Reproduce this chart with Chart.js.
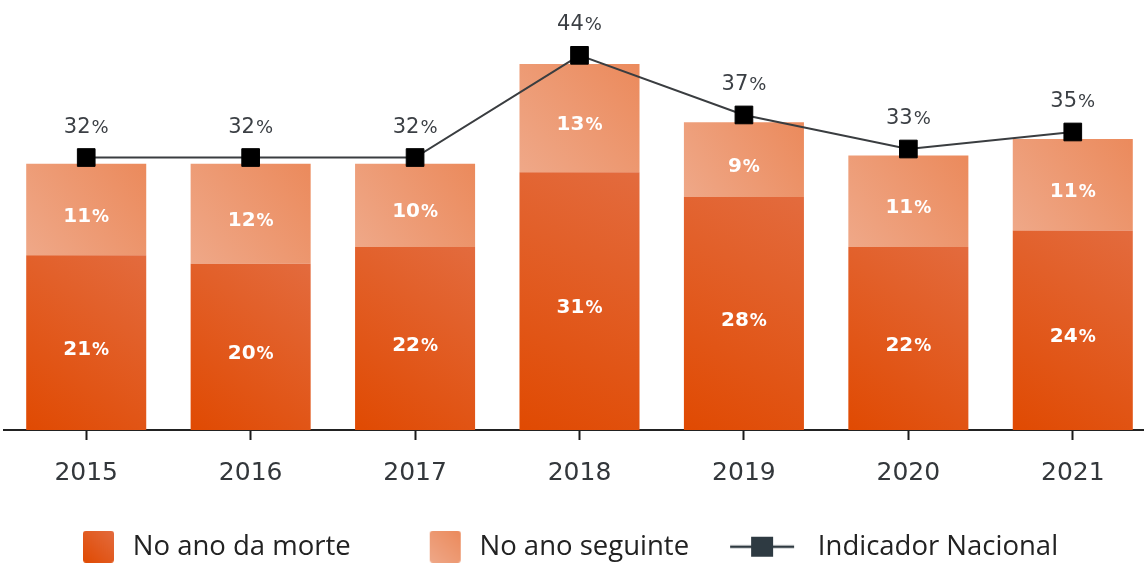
<!DOCTYPE html>
<html lang="pt-BR">
<head>
<meta charset="utf-8">
<script src="https://cdn.jsdelivr.net/npm/chart.js@4.4.1/dist/chart.umd.min.js"></script>
<style>
    html, body { margin: 0; padding: 0; background: #fff; overflow: hidden; }
    #grafico { position: absolute; left: 0; top: 0; }
</style>
</head>
<body>
<canvas id="grafico" width="1158" height="580"></canvas>
<script>
const anos = ['2015', '2016', '2017', '2018', '2019', '2020', '2021'];
const noAnoDaMorte = [21, 20, 22, 31, 28, 22, 24];
const noAnoSeguinte = [11, 12, 10, 13, 9, 11, 11];
const indicadorNacional = [32, 32, 32, 44, 37, 33, 35];

const coresMorte = ['#e04a02', '#e36b3e'];
const coresSeguinte = ['#efa888', '#eb8a5c'];

// gradiente diagonal de cada barra (canto inferior esquerdo -> superior direito)
function gradienteBarra(context, cores, baseFn, topoFn) {
    if (context.type !== 'data') return cores[0];
    const chart = context.chart;
    const x = chart.scales.x, y = chart.scales.y;
    if (!chart.chartArea || !x || !y) return cores[0];
    const i = context.dataIndex;
    const meio = x.getPixelForValue(i);
    const y0 = y.getPixelForValue(baseFn(i));
    const y1 = y.getPixelForValue(topoFn(i));
    if (![meio, y0, y1].every(Number.isFinite)) return cores[0];
    const g = chart.ctx.createLinearGradient(meio - 60, y0, meio + 60, y1);
    g.addColorStop(0, cores[0]);
    g.addColorStop(1, cores[1]);
    return g;
}

function iconeCaixa(cores) {
    const cv = document.createElement('canvas');
    cv.width = 84; cv.height = 32;
    const g = cv.getContext('2d');
    const grad = g.createLinearGradient(48, 32, 79, 0);
    grad.addColorStop(0, cores[0]);
    grad.addColorStop(1, cores[1]);
    g.fillStyle = grad;
    g.beginPath();
    if (g.roundRect) g.roundRect(48, 0, 31, 32, 3); else g.rect(48, 0, 31, 32);
    g.fill();
    return cv;
}

function iconeLinha() {
    const cv = document.createElement('canvas');
    cv.width = 84; cv.height = 24;
    const g = cv.getContext('2d');
    g.strokeStyle = '#2f3a41';
    g.lineWidth = 2.5;
    g.beginPath();
    g.moveTo(10, 12); g.lineTo(74, 12);
    g.stroke();
    g.fillStyle = '#2e3a42';
    g.fillRect(31, 2, 22, 20);
    return cv;
}

const icones = [iconeCaixa(coresMorte), iconeCaixa(coresSeguinte), iconeLinha()];

function textoPercentual(ctx, valor, x, y, tam, cor, peso) {
    const num = String(valor);
    const fNum = `${peso} ${tam}px "DejaVu Sans"`;
    const fPct = `${peso} ${Math.round(tam * 0.85)}px "DejaVu Sans"`;
    ctx.font = fNum;
    const w1 = ctx.measureText(num).width;
    ctx.font = fPct;
    const w2 = ctx.measureText('%').width;
    const ini = x - (w1 + w2 + 1) / 2;
    ctx.fillStyle = cor;
    ctx.textAlign = 'left';
    ctx.textBaseline = 'alphabetic';
    ctx.font = fNum;
    ctx.fillText(num, ini, y);
    ctx.font = fPct;
    ctx.fillText('%', ini + w1 + 1, y);
}

const rotulos = {
    id: 'rotulos',
    afterDatasetsDraw(chart) {
        const ctx = chart.ctx;
        ctx.save();
        chart.data.datasets.forEach((ds, d) => {
            const meta = chart.getDatasetMeta(d);
            meta.data.forEach((el, i) => {
                if (meta.type === 'bar') {
                    textoPercentual(ctx, ds.data[i], el.x, (el.y + el.base) / 2 + 12, 20, '#fff', 'bold');
                } else {
                    textoPercentual(ctx, ds.data[i], el.x, el.y - 25, 21, '#3b3f44', 'normal');
                }
            });
        });
        ctx.restore();
    }
};

new Chart(document.getElementById('grafico'), {
    data: {
        labels: anos,
        datasets: [
            {
                type: 'bar',
                label: 'No ano da morte',
                data: noAnoDaMorte,
                order: 1,
                backgroundColor: c => gradienteBarra(c, coresMorte, () => 0, i => noAnoDaMorte[i]),
                barPercentage: 0.73,
                categoryPercentage: 1
            },
            {
                type: 'bar',
                label: 'No ano seguinte',
                data: noAnoSeguinte,
                order: 1,
                backgroundColor: c => gradienteBarra(c, coresSeguinte, i => noAnoDaMorte[i], i => noAnoDaMorte[i] + noAnoSeguinte[i]),
                barPercentage: 0.73,
                categoryPercentage: 1
            },
            {
                type: 'line',
                label: 'Indicador Nacional',
                data: indicadorNacional,
                order: 0,
                yAxisID: 'y2',
                borderColor: '#3a3d40',
                borderWidth: 2,
                tension: 0,
                clip: false,
                pointStyle: 'rect',
                pointRadius: 12.5,
                pointBackgroundColor: '#000',
                pointBorderColor: '#000',
                pointBorderWidth: 1
            }
        ]
    },
    options: {
        responsive: false,
        animation: false,
        layout: { autoPadding: false, padding: { left: 4, right: 3, top: 0, bottom: 9.5 } },
        scales: {
            x: {
                stacked: true,
                afterFit: scale => { scale.height = 72; },
                grid: {
                    display: true,
                    drawOnChartArea: false,
                    drawTicks: true,
                    tickLength: 10,
                    tickColor: '#1a1a1a',
                    tickWidth: 2,
                    offset: false
                },
                border: { display: true, color: '#222', width: 2 },
                ticks: {
                    color: '#33373b',
                    padding: 18,
                    font: { family: '"DejaVu Sans"', size: 25 }
                }
            },
            y: { stacked: true, display: false, min: 0, max: 51.7 },
            y2: { stacked: false, display: false, min: 0, max: 50.5 }
        },
        plugins: {
            tooltip: { enabled: false },
            legend: {
                position: 'bottom',
                align: 'start',
                labels: {
                    usePointStyle: true,
                    pointStyleWidth: 84,
                    padding: 31,
                    color: '#222',
                    font: { family: '"Open Sans"', size: 27.5 },
                    sort: (a, b) => a.datasetIndex - b.datasetIndex,
                    generateLabels(chart) {
                        const itens = Chart.defaults.plugins.legend.labels.generateLabels(chart);
                        itens.forEach(it => { it.pointStyle = icones[it.datasetIndex]; });
                        return itens;
                    }
                }
            }
        }
    },
    plugins: [rotulos]
});
</script>
</body>
</html>
